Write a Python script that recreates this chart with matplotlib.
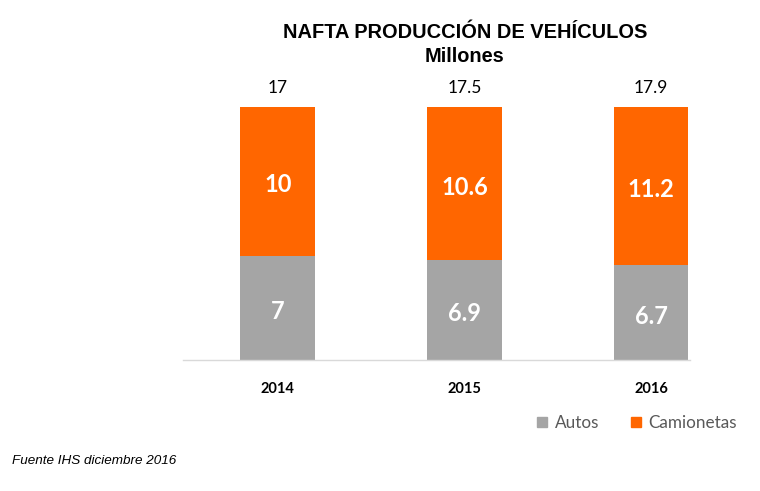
import matplotlib.pyplot as plt
from matplotlib.patches import Patch

years = ["2014", "2015", "2016"]
autos = [7, 6.9, 6.7]
camionetas = [10, 10.6, 11.2]
totales = [17, 17.5, 17.9]

gris = "#A5A5A5"
naranja = "#FF6600"

fig = plt.figure(figsize=(7.6, 4.91), dpi=100)
# axes in pixel terms: x 183..690, y bottom 360, top 100
W, H = 760, 491
ax = fig.add_axes([183 / W, (H - 360) / H, (690 - 183) / W, (360 - 100) / H])

x = range(len(years))
pct_autos = [a / t * 100 for a, t in zip(autos, totales)]
pct_cam = [c / t * 100 for c, t in zip(camionetas, totales)]

ax.bar(x, pct_autos, width=0.40, color=gris)
ax.bar(x, pct_cam, width=0.40, bottom=pct_autos, color=naranja)

for i in x:
    ax.annotate(f"{autos[i]:g}", (i, pct_autos[i] / 2), xytext=(0, -2.5), textcoords="offset points",
                ha="center", va="center", color="white", fontsize=17, fontweight="bold", family="Lato")
    ax.annotate(f"{camionetas[i]:g}", (i, pct_autos[i] + pct_cam[i] / 2), xytext=(0, -2.5),
                textcoords="offset points", ha="center", va="center", color="white",
                fontsize=17, fontweight="bold", family="Lato")
    ax.text(i, 107.5, f"{totales[i]:g}", ha="center", va="center",
            color="black", fontsize=12.5, family="Lato")

ax.set_xlim(-0.508, 2.209)
ax.set_ylim(0, 102.8)
ax.set_xticks(list(x))
ax.set_xticklabels(years, fontsize=10.5, fontweight="bold", family="Lato")
ax.tick_params(axis="x", length=0, pad=16)
ax.set_yticks([])
for s in ["top", "right", "left"]:
    ax.spines[s].set_visible(False)
ax.spines["bottom"].set_color("#D9D9D9")
ax.spines["bottom"].set_linewidth(1)

fig.text(465 / W, 1 - 33 / H, "NAFTA PRODUCCIÓN DE VEHÍCULOS", ha="center", va="center",
         fontsize=14.4, fontweight="bold", family="Liberation Sans")
fig.text(465 / W, 1 - 57 / H, "Millones", ha="center", va="center",
         fontsize=14.4, fontweight="bold", family="Liberation Sans")

handles = [Patch(color=gris, label="Autos"), Patch(color=naranja, label="Camionetas")]
leg = fig.legend(handles=handles, loc="center right", bbox_to_anchor=(737 / W, 1 - 423 / H),
                 ncol=2, frameon=False, borderpad=0, borderaxespad=0,
                 handlelength=0.58, handleheight=0.58,
                 handletextpad=0.45, columnspacing=1.85, prop={"family": "Lato", "size": 12.3})
for t in leg.get_texts():
    t.set_color("#595959")

fig.text(12 / W, 1 - 461 / H, "Fuente IHS diciembre 2016", ha="left", va="center",
         fontsize=9.7, style="italic", family="Liberation Sans")

fig.savefig("out.png", dpi=100)
